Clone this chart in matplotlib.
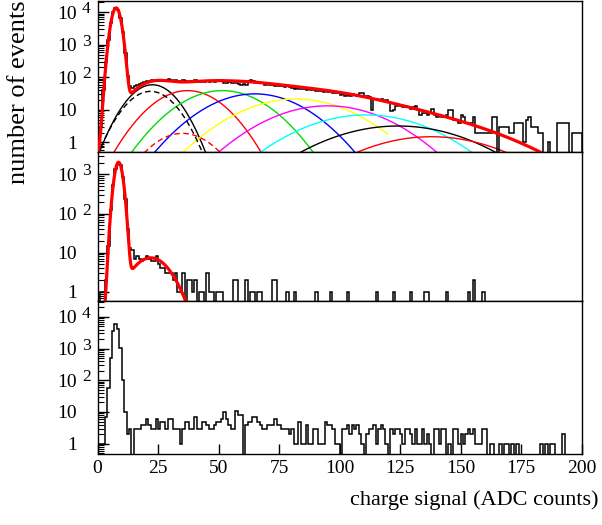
import numpy as np
import matplotlib
matplotlib.use("Agg")
import matplotlib.pyplot as plt
from matplotlib.ticker import NullFormatter, LogLocator

plt.rcParams['font.family'] = ['Liberation Serif', 'DejaVu Serif']

# ---------------- data ----------------
bin_edges = np.arange(0, 201, 1)

h_top = [1, 3, 40, 290, 1400, 4600, 9800, 13500, 11800, 6500,
         2400, 560, 110, 55, 46, 53, 58, 64, 68, 71,
         76, 79, 81, 78, 83, 79, 82, 78, 84, 90,
         80, 76, 82, 78, 74, 80, 77, 73, 79, 75,
         81, 76, 72, 78, 74, 79, 73, 77, 71, 76,
         82, 82, 69, 67, 70, 68, 66, 69, 61, 60,
         62, 59, 78, 80, 77, 68, 66, 69, 67, 60,
         61, 58, 60, 55, 54, 53, 55, 52, 54, 50,
         48, 43, 47, 45, 43, 44, 42, 44, 41, 43,
         39, 37, 38, 36, 37, 35, 37, 34, 33, 32,
         28, 30, 26, 29, 27, 30, 28, 27, 32, 33,
         25, 26, 24, 10, 21, 22, 20, 21, 19, 20,
         18, 9, 10, 13, 14, 13, 12, 13, 12, 11,
         12, 13, 10, 7, 8, 8, 7, 8, 11, 7,
         6, 7, 6, 6, 7, 10, 10, 5, 5, 4,
         7, 6, 4, 4, 4, 6, 2, 2, 2, 2,
         2, 2, 2, 6, 6, 0, 3, 3, 3, 3,
         2, 2, 4, 4, 4, 4, 1, 5, 6, 3,
         3, 3, 2, 2, 0, 0, 1, 0, 0, 0,
         4, 4, 4, 4, 4, 0, 2, 2, 2, 2]

h_mid = [0, 1, 1, 2, 15, 120, 550, 1400, 2000, 1700,
         850, 240, 40, 13, 12, 7, 8, 7, 6, 7,
         8, 7, 6, 6, 8, 5, 4, 4, 3, 3,
         3, 2, 3, 1, 1, 3, 0, 2, 2, 1,
         2, 0, 1, 1, 0, 3, 1, 1, 0, 1,
         1, 1, 0, 0, 0, 0, 2, 2, 0, 0,
         0, 2, 0, 1, 1, 0, 1, 1, 0, 0,
         0, 0, 2, 2, 0, 0, 0, 0, 1, 0,
         0, 1, 0, 0, 0, 0, 0, 0, 0, 0,
         1, 0, 0, 0, 0, 0, 1, 0, 0, 0,
         0, 0, 0, 1, 0, 0, 0, 0, 0, 0,
         0, 0, 0, 0, 0, 1, 0, 0, 0, 0,
         0, 0, 1, 0, 0, 0, 0, 0, 0, 1,
         0, 0, 0, 0, 0, 1, 1, 0, 0, 0,
         0, 0, 0, 0, 1, 0, 0, 0, 0, 0,
         0, 0, 0, 1, 0, 2, 0, 0, 0, 1,
         0, 0, 0, 0, 0, 0, 0, 0, 0, 0,
         0, 0, 0, 0, 0, 0, 0, 0, 0, 0,
         0, 0, 0, 0, 0, 0, 0, 0, 0, 0,
         0, 0, 0, 0, 0, 0, 0, 0, 0, 0]

h_bot = [1, 1, 1, 7, 57, 510, 3500, 5800, 4100, 1070,
         105, 10, 2, 3, 0, 3, 3, 3, 4, 4,
         6, 4, 3, 3, 6, 3, 5, 5, 3, 6,
         6, 3, 3, 3, 1, 3, 5, 5, 3, 3,
         7, 3, 3, 5, 5, 4, 3, 3, 4, 5,
         5, 6, 10, 6, 4, 3, 3, 11, 8, 8,
         0, 4, 5, 5, 7, 7, 5, 4, 3, 3,
         4, 4, 4, 6, 4, 4, 3, 3, 3, 2,
         3, 1, 1, 5, 1, 1, 4, 1, 1, 3,
         3, 1, 1, 1, 5, 4, 4, 3, 1, 1,
         0, 3, 3, 4, 2, 4, 3, 4, 2, 1,
         0, 2, 3, 3, 4, 1, 3, 4, 3, 1,
         0, 3, 2, 3, 3, 2, 1, 3, 3, 2,
         1, 3, 1, 1, 3, 1, 2, 1, 0, 3,
         3, 1, 3, 3, 0, 1, 0, 3, 3, 1,
         2, 1, 2, 3, 2, 3, 1, 1, 1, 3,
         3, 0, 1, 1, 0, 0, 1, 0, 1, 1,
         0, 1, 0, 1, 0, 0, 0, 0, 0, 0,
         0, 0, 0, 1, 0, 1, 0, 1, 1, 0,
         0, 0, 2, 0, 0, 0, 0, 0, 0, 0]

# fit parameters (top panel): pedestal + photo-electron components
top_ped = dict(amp=13500, mean=7.7, sigma=1.5)
comp_amp = [59, 39, 39, 31, 21.5, 13.3, 7.0, 3.2, 1.5]
comp_mean = [22.7, 37.2, 51.6, 65.0, 82.0, 95.1, 111.0, 124.2, 138.0]
comp_sigma = [7.1, 10.3, 12.7, 14.4, 17.0, 17.6, 19.0, 20.9, 20.7]
comp_xmax = [200, 200, 200, 200, 120, 200, 200, 200, 200]
comp_color = ['black', 'red', '#00dd00', 'blue', '#ffff00', '#ff00ff', '#00ffff', 'black', 'red']
# higher-order term included in the total fit but not drawn separately
hidden_amp = [0.8]
hidden_mean = [152.0]
hidden_sigma = [22.0]
dash_amp = [37, 1.9]
dash_mean = [21.9, 35.1]
dash_sigma = [7.3, 9.5]
dash_color = ['black', 'red']

# middle panel fit
mid_ped = dict(amp=2040, mean=8.7, sigma=1.35)
mid_comp = dict(amp=7.4, mean=22.0, sigma=6.4)

ylims = [(0.52, 2.2e4), (0.6, 3800), (0.49, 33000)]
xticks = [0, 25, 50, 75, 100, 125, 150, 175, 200]


def gauss(x, amp, mean, sigma):
    return amp * np.exp(-0.5 * ((x - mean) / sigma) ** 2)


fig = plt.figure(figsize=(6.02, 5.25), dpi=100)
W, H = 602.0, 525.0
xl, xr = 97.5, 581.5
panels_px = [(1.0, 151.7), (151.7, 300.5), (300.5, 453.5)]
axes = []
for (t, b) in panels_px:
    ax = fig.add_axes([xl / W, 1 - b / H, (xr - xl) / W, (b - t) / H])
    axes.append(ax)

xs = np.linspace(0, 200, 2001)
FS = 14


def style(ax, ylim, show_x):
    ax.set_yscale('log')
    ax.set_xlim(0, 200)
    ax.set_ylim(*ylim)
    for s in ax.spines.values():
        s.set_linewidth(1.0)
        s.set_color('black')
    ax.yaxis.set_major_locator(LogLocator(base=10, numticks=10))
    ax.yaxis.set_minor_locator(LogLocator(base=10, subs=np.arange(2, 10), numticks=20))
    ax.yaxis.set_major_formatter(NullFormatter())
    ax.yaxis.set_minor_formatter(NullFormatter())
    ax.tick_params(axis='y', which='major', direction='in', length=8, width=1.0, right=False)
    ax.tick_params(axis='y', which='minor', direction='in', length=4, width=0.8, right=False)
    ax.set_xticks(xticks)
    if show_x:
        ax.tick_params(axis='x', which='major', direction='in', length=7, width=1.0,
                       labelsize=FS, pad=5, top=False)
        ax.set_xticklabels([str(v) for v in xticks])
    else:
        ax.tick_params(axis='x', which='major', length=0, labelbottom=False)
    # y tick labels ROOT style
    trans = ax.get_yaxis_transform()
    for n in range(0, 6):
        v = 10 ** n
        if not (ylim[0] <= v <= ylim[1]):
            continue
        base = '1' if n == 0 else '10'
        ax.annotate(base, xy=(0, v), xycoords=trans, xytext=(-20.5, -2), textcoords='offset pixels',
                    ha='right', va='center', fontsize=FS, annotation_clip=False)
        if n >= 2:
            ax.annotate(str(n), xy=(0, v), xycoords=trans, xytext=(-15.5, 3), textcoords='offset pixels',
                        ha='left', va='center', fontsize=FS * 0.9, annotation_clip=False)


def draw_hist(ax, h):
    hv = np.array(h, dtype=float)
    hv = np.where(hv > 0, hv, 1e-3)
    ax.stairs(hv, bin_edges, baseline=1e-3, color='black', lw=1.1, zorder=3)


# top panel
ax = axes[0]
style(ax, ylims[0], False)
draw_hist(ax, h_top)
for a, m, s, xm, c in zip(comp_amp, comp_mean, comp_sigma, comp_xmax, comp_color):
    xx = xs[xs <= xm]
    ax.plot(xx, gauss(xx, a, m, s), color=c, lw=1.0, zorder=2)
for a, m, s, c in zip(dash_amp, dash_mean, dash_sigma, dash_color):
    ax.plot(xs, gauss(xs, a, m, s), color=c, lw=1.0, ls=(0, (4, 2.5)), zorder=2)
total = gauss(xs, **top_ped)
for a, m, s in zip(comp_amp + hidden_amp, comp_mean + hidden_mean, comp_sigma + hidden_sigma):
    total = total + gauss(xs, a, m, s)
ax.plot(xs, total, color='red', lw=2.3, zorder=4)

# middle panel
ax = axes[1]
style(ax, ylims[1], False)
draw_hist(ax, h_mid)
total_mid = gauss(xs, **mid_ped) + gauss(xs, **mid_comp)
ax.plot(xs, total_mid, color='red', lw=2.3, zorder=4)

# bottom panel
ax = axes[2]
style(ax, ylims[2], True)
draw_hist(ax, h_bot)

fig.text(19 / W, 1 - 0 / H, 'number of events', rotation=90, ha='center', va='top', fontsize=19)
fig.text(598 / W, 1 - 500 / H, 'charge signal (ADC counts)', ha='right', va='center', fontsize=16)

fig.savefig('out.png', dpi=100)
